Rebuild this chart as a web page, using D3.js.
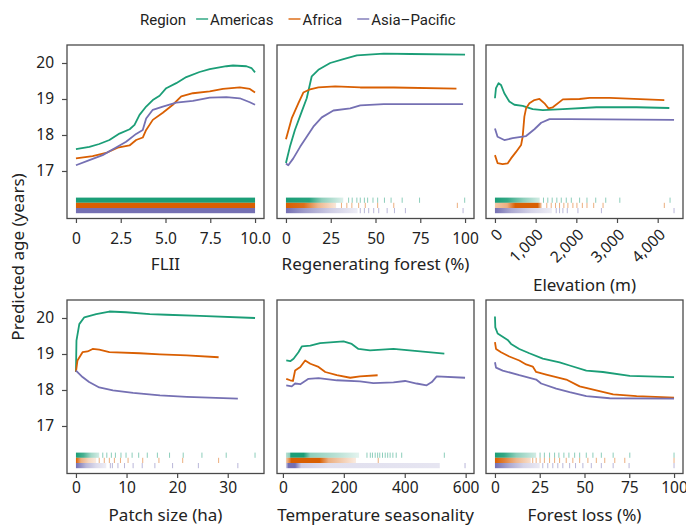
<!DOCTYPE html>
<html>
<head>
<meta charset="utf-8">
<script src="https://cdn.jsdelivr.net/npm/d3@7"></script>
<style>
  body { margin: 0; background: #fff; }
  text { font-family: 'Noto Sans', sans-serif; fill: #222; }
  .legend text { font-family: 'Roboto', sans-serif; }
</style>
</head>
<body>
<svg id="chart" width="686" height="526"></svg>
<script>
const regions = ['Americas', 'Africa', 'Asia\u2013Pacific'];
const regionColors = ['#1b9e77', '#d95f02', '#7570b3'];

const yTicks = [17, 18, 19, 20];
const yDomain = [15.68, 20.5];

// partial dependence curves, one array per region: Americas, Africa, Asia-Pacific
const fliiLines = [
  [[0, 17.61], [0.75, 17.67], [1.3, 17.75], [1.87, 17.86], [2.43, 18.04], [3.0, 18.16], [3.27, 18.28], [3.55, 18.56], [3.92, 18.79], [4.29, 18.97], [4.67, 19.09], [5.04, 19.3], [5.6, 19.44], [6.16, 19.61], [6.9, 19.75], [7.47, 19.83], [8.4, 19.91], [8.77, 19.93], [9.52, 19.91], [9.8, 19.86], [10, 19.74]],
  [[0, 17.35], [0.93, 17.41], [1.68, 17.5], [2.33, 17.65], [2.99, 17.71], [3.36, 17.86], [3.73, 17.93], [3.92, 18.14], [4.29, 18.42], [4.85, 18.62], [5.41, 18.84], [5.88, 19.07], [6.53, 19.16], [7.47, 19.21], [8.21, 19.28], [9.15, 19.32], [9.71, 19.28], [10, 19.18]],
  [[0, 17.16], [0.75, 17.3], [1.49, 17.44], [2.24, 17.65], [2.8, 17.81], [3.36, 18.03], [3.73, 18.14], [3.92, 18.46], [4.29, 18.7], [4.85, 18.79], [5.6, 18.9], [6.53, 18.95], [7.47, 19.04], [8.4, 19.05], [9.15, 19.02], [9.71, 18.91], [10, 18.84]]
];
const regenLines = [
  [[0, 17.22], [2.2, 17.67], [5.0, 18.14], [8.8, 18.65], [11.6, 19.02], [14.4, 19.63], [18.1, 19.81], [24.7, 20.0], [32.1, 20.11], [39.6, 20.21], [54.6, 20.26], [69.5, 20.25], [100, 20.23]],
  [[0, 17.88], [3.2, 18.46], [6.9, 18.88], [9.7, 19.18], [13.5, 19.27], [18.1, 19.32], [27.5, 19.35], [41.5, 19.32], [60.2, 19.32], [95.2, 19.29]],
  [[0, 17.21], [1.3, 17.16], [4.1, 17.35], [7.9, 17.67], [11.6, 17.95], [15.3, 18.23], [20, 18.49], [26.5, 18.68], [35.9, 18.74], [41.5, 18.82], [54.6, 18.86], [98.9, 18.86]]
];
const elevLines = [
  [[0, 19.02], [25, 19.3], [89, 19.44], [148, 19.39], [230, 19.16], [353, 18.93], [477, 18.84], [681, 18.81], [928, 18.72], [1175, 18.69], [1669, 18.72], [2493, 18.77], [3481, 18.77], [4286, 18.75]],
  [[0, 17.44], [64, 17.22], [188, 17.19], [311, 17.21], [395, 17.35], [519, 17.53], [642, 17.72], [681, 17.95], [723, 18.51], [765, 18.74], [847, 18.88], [970, 18.97], [1094, 19.0], [1217, 18.88], [1316, 18.74], [1422, 18.77], [1669, 18.99], [2081, 19.0], [2328, 19.03], [2822, 19.03], [4163, 18.97]],
  [[0, 18.18], [64, 17.95], [230, 17.86], [435, 17.91], [765, 17.97], [970, 18.16], [1136, 18.34], [1341, 18.44], [1835, 18.44], [4402, 18.42]]
];
const patchLines = [
  [[0, 18.5], [0.1, 19.37], [0.66, 19.83], [1.65, 20.02], [4, 20.11], [6.6, 20.18], [9.9, 20.16], [14.6, 20.11], [17.9, 20.09], [24.5, 20.06], [35.4, 20.0]],
  [[0, 18.5], [0.3, 18.82], [1.3, 19.05], [2.3, 19.07], [3.3, 19.14], [4.6, 19.12], [6.6, 19.05], [12.6, 19.02], [16.6, 18.99], [21.9, 18.96], [28.2, 18.91]],
  [[0, 18.54], [1.3, 18.36], [2.6, 18.22], [4.6, 18.07], [7.3, 17.99], [11.3, 17.92], [16.6, 17.85], [21.9, 17.81], [32, 17.76]]
];
const seasonLines = [
  [[11, 18.82], [24, 18.8], [35, 18.87], [51, 19.05], [62, 19.21], [90, 19.23], [122, 19.3], [166, 19.33], [199, 19.35], [226, 19.28], [248, 19.14], [286, 19.1], [325, 19.12], [363, 19.14], [530, 19.01]],
  [[11, 18.31], [24, 18.27], [33, 18.25], [40, 18.54], [57, 18.64], [73, 18.82], [90, 18.73], [117, 18.64], [139, 18.5], [177, 18.41], [221, 18.34], [253, 18.38], [311, 18.41]],
  [[11, 18.13], [29, 18.1], [40, 18.18], [57, 18.16], [84, 18.31], [117, 18.33], [177, 18.27], [253, 18.24], [297, 18.19], [363, 18.21], [401, 18.25], [439, 18.18], [472, 18.13], [489, 18.22], [505, 18.38], [598, 18.34]]
];
const lossLines = [
  [[0, 20.04], [0.2, 19.74], [1.5, 19.57], [4.3, 19.48], [7.1, 19.39], [9, 19.28], [13.6, 19.14], [19.2, 19.02], [26.7, 18.87], [36.1, 18.77], [41.7, 18.68], [51, 18.54], [60.3, 18.5], [75.3, 18.39], [100, 18.36]],
  [[0, 19.33], [0.6, 19.14], [3.4, 19.05], [8, 18.93], [13.6, 18.82], [17.4, 18.71], [21.1, 18.65], [23, 18.5], [28.6, 18.43], [39.8, 18.29], [47.3, 18.1], [56.6, 17.99], [66, 17.88], [79.1, 17.83], [100, 17.79]],
  [[0, 18.77], [0.6, 18.62], [4.3, 18.54], [13.6, 18.41], [23, 18.29], [25.8, 18.18], [34.2, 18.04], [41.7, 17.94], [51, 17.83], [64.1, 17.77], [100, 17.76]]
];

// rug density: [value, shading] stops for the dense part, then single observations
const fliiRugDense = [[[0, 1], [10, 1]], [[0, 1], [10, 1]], [[0, 1], [10, 1]]];
const fliiRugTicks = [[], [], []];
const regenRugDense = [
  [[0, 1], [13, 0.95], [20, 0.5], [32, 0.15]],
  [[0, 1], [10, 0.9], [18, 0.45], [28, 0.15]],
  [[0, 1], [10, 0.7], [25, 0.35], [40, 0.12]]
];
const regenRugTicks = [
  [35, 37, 39.6, 41.5, 43.8, 45.6, 48.6, 51.2, 55, 58.7, 64.9, 74.6, 99.8],
  [31, 34, 36.8, 40.6, 44.3, 51.2, 60.2, 95.7],
  [41.5, 43.8, 46.2, 49, 51.8, 56.5, 60.6, 66.7, 98.9]
];
const elevRugDense = [
  [[0, 1], [300, 0.9], [700, 0.5], [1100, 0.2]],
  [[0, 0.35], [300, 0.5], [500, 1], [1050, 1], [1150, 0.3]],
  [[0, 1], [400, 0.6], [900, 0.3], [1400, 0.12]]
];
const elevRugTicks = [
  [1193, 1299, 1407, 1521, 1630, 1753, 1877, 2081, 2262, 2477, 2723, 3069, 4304],
  [1274, 1383, 1489, 1588, 1694, 1793, 1916, 2015, 2148, 2262, 2427, 2657, 4163],
  [1506, 1588, 1670, 1778, 2040, 2617, 4402]
];
const patchRugDense = [
  [[0, 1], [1.5, 0.8], [3, 0.4], [4.6, 0.2]],
  [[0, 1], [1, 0.5], [2.5, 0.25], [4, 0.12]],
  [[0, 1], [2, 0.5], [4, 0.25], [6, 0.12]]
];
const patchRugTicks = [
  [5.3, 6.1, 7.0, 7.8, 8.9, 9.9, 11.1, 12.4, 14.1, 16.1, 18.5, 21.2, 24.9, 29.7, 35.4],
  [4.6, 5.6, 6.6, 7.6, 8.8, 10.3, 13.2, 16.4, 21.1, 28.2],
  [6.8, 7.2, 8.3, 9.6, 11.3, 13.1, 15.6, 19.1, 24.2, 32]
];
const seasonRugDense = [
  [[10, 0.3], [22, 0.5], [26, 1], [68, 1], [90, 0.5], [180, 0.3], [250, 0.12]],
  [[10, 0.3], [28, 1], [120, 1], [150, 0.5], [240, 0.12]],
  [[10, 0.3], [18, 1], [40, 1], [60, 0.35], [150, 0.22], [515, 0.18]]
];
const seasonRugTicks = [
  [276, 287, 294, 303, 311, 318, 327, 336, 344, 352, 361, 372, 390, 530],
  [313],
  [598]
];
const lossRugDense = [
  [[0, 1], [5, 0.9], [12, 0.5], [23, 0.2]],
  [[0, 1], [5, 0.8], [12, 0.45], [20, 0.2]],
  [[0, 1], [8, 0.6], [16, 0.3], [25, 0.15]]
];
const lossRugTicks = [
  [25.2, 27.6, 30.5, 33.3, 35.7, 38.5, 41.3, 44.5, 47.3, 51, 54.7, 59.4, 66, 75.3, 100],
  [21.1, 23, 25.2, 27.6, 30.5, 33.3, 36.1, 39.8, 43.5, 47.3, 51.9, 56.6, 61.3, 66.9, 72.5, 100],
  [26.7, 29.5, 32.3, 35.1, 37.9, 41.7, 45, 49.1, 53.8, 59.4, 66, 74.9, 100]
];

const fliiTicks = [0, 2.5, 5, 7.5, 10];
const fliiTickLabels = ['0', '2.5', '5.0', '7.5', '10.0'];
const regenTicks = [0, 25, 50, 75, 100];
const elevTicks = [0, 1000, 2000, 3000, 4000];
const elevTickLabels = ['0', '1,000', '2,000', '3,000', '4,000'];
const patchTicks = [0, 10, 20, 30];
const seasonTicks = [0, 200, 400, 600];
const lossTicks = [0, 25, 50, 75, 100];

const panels = [
  { title: 'FLII', lines: fliiLines, dense: fliiRugDense, rug: fliiRugTicks, ticks: fliiTicks, labels: fliiTickLabels },
  { title: 'Regenerating forest (%)', lines: regenLines, dense: regenRugDense, rug: regenRugTicks, ticks: regenTicks },
  { title: 'Elevation (m)', lines: elevLines, dense: elevRugDense, rug: elevRugTicks, ticks: elevTicks, labels: elevTickLabels, rotate: true },
  { title: 'Patch size (ha)', lines: patchLines, dense: patchRugDense, rug: patchRugTicks, ticks: patchTicks },
  { title: 'Temperature seasonality', lines: seasonLines, dense: seasonRugDense, rug: seasonRugTicks, ticks: seasonTicks },
  { title: 'Forest loss (%)', lines: lossLines, dense: lossRugDense, rug: lossRugTicks, ticks: lossTicks }
];

const svg = d3.select('#chart');
const defs = svg.append('defs');

const colX = [67, 277, 486];
const rowY = [45, 300];
const panelW = 197;
const panelH = 173.5;
const frameColor = '#4a4a4a';
// the two rows sit a little differently under the frame in the original
const rowLabelPad = [9.5, 4];
const rowTitleGap = [51.5, 47.5];

const bandH = 5.2;
const bandBottom = panelH - 5.3;

panels.forEach((p, i) => {
  const col = i % 3;
  const row = Math.floor(i / 3);
  const g = svg.append('g').attr('transform', `translate(${colX[col]},${rowY[row]})`);

  const allX = [];
  p.lines.forEach((l) => l.forEach((d) => allX.push(d[0])));
  p.dense.forEach((s) => s.forEach((d) => allX.push(d[0])));
  p.rug.forEach((r) => r.forEach((v) => allX.push(v)));
  const [lo, hi] = d3.extent(allX);
  const pad = (hi - lo) * 0.05;

  const x = d3.scaleLinear().domain([lo - pad, hi + pad]).range([0, panelW]);
  const y = d3.scaleLinear().domain(yDomain).range([panelH, 0]);

  // rugs: green on top, then orange, purple at the bottom
  regions.forEach((r, k) => {
    const top = bandBottom - (3 - k) * bandH;
    const stops = p.dense[k];
    const x0 = x(stops[0][0]);
    const x1 = x(stops[stops.length - 1][0]);
    const id = `rug-${i}-${k}`;
    defs
      .append('linearGradient')
      .attr('id', id)
      .attr('gradientUnits', 'userSpaceOnUse')
      .attr('x1', x0)
      .attr('x2', x1)
      .attr('y1', 0)
      .attr('y2', 0)
      .selectAll('stop')
      .data(stops)
      .enter()
      .append('stop')
      .attr('offset', (d) => (x(d[0]) - x0) / (x1 - x0))
      .attr('stop-color', regionColors[k])
      .attr('stop-opacity', (d) => d[1]);

    g.append('rect')
      .attr('x', x0)
      .attr('y', top)
      .attr('width', x1 - x0)
      .attr('height', bandH)
      .attr('fill', `url(#${id})`);

    g.selectAll(`line.rug-${k}`)
      .data(p.rug[k])
      .enter()
      .append('line')
      .attr('class', `rug-${k}`)
      .attr('x1', (d) => x(d))
      .attr('x2', (d) => x(d))
      .attr('y1', top)
      .attr('y2', top + bandH)
      .attr('stroke', regionColors[k])
      .attr('stroke-opacity', 0.5)
      .attr('stroke-width', 1);
  });

  const line = d3
    .line()
    .x((d) => x(d[0]))
    .y((d) => y(d[1]));

  g.selectAll('path.curve')
    .data(p.lines)
    .enter()
    .append('path')
    .attr('class', 'curve')
    .attr('d', line)
    .attr('fill', 'none')
    .attr('stroke', (d, k) => regionColors[k])
    .attr('stroke-width', 1.8)
    .attr('stroke-linejoin', 'round');

  g.append('rect')
    .attr('width', panelW)
    .attr('height', panelH)
    .attr('fill', 'none')
    .attr('stroke', frameColor)
    .attr('stroke-width', 1.3);

  const xAxis = g
    .append('g')
    .attr('transform', `translate(0,${panelH})`)
    .call(
      d3
        .axisBottom(x)
        .tickValues(p.ticks)
        .tickFormat((d, j) => (p.labels ? p.labels[j] : String(d)))
        .tickSize(4.5)
        .tickPadding(rowLabelPad[row]),
    );
  xAxis.select('.domain').remove();
  xAxis.selectAll('line').attr('stroke', frameColor).attr('stroke-width', 1.2);
  xAxis.selectAll('text').attr('font-size', 15.5).attr('fill', '#222').attr('font-family', null);

  if (p.rotate) {
    xAxis
      .selectAll('text')
      .attr('y', 0)
      .attr('dy', null)
      .attr('text-anchor', 'end')
      .attr('transform', 'translate(8,17) rotate(-45)');
  }

  g.append('text')
    .attr('x', panelW / 2)
    .attr('y', panelH + rowTitleGap[row] + (p.rotate ? 20.5 : 0))
    .attr('text-anchor', 'middle')
    .attr('font-size', 17)
    .text(p.title);

  if (col === 0) {
    const yAxis = g.append('g').call(
      d3
        .axisLeft(y)
        .tickValues(yTicks)
        .tickFormat((d) => String(d))
        .tickSize(5)
        .tickPadding(8),
    );
    yAxis.select('.domain').remove();
    yAxis.selectAll('line').attr('stroke', frameColor).attr('stroke-width', 1.2);
    yAxis.selectAll('text').attr('font-size', 15.5).attr('fill', '#222').attr('font-family', null);
  }
});

svg
  .append('text')
  .attr('transform', 'translate(24,257) rotate(-90)')
  .attr('text-anchor', 'middle')
  .attr('font-size', 17)
  .text('Predicted age (years)');

// legend
const legend = svg.append('g').attr('class', 'legend').attr('transform', 'translate(140,25)');
const legendTitle = legend.append('text').attr('font-size', 15).text('Region');
let lx = legendTitle.node().getComputedTextLength() + 10;
regions.forEach((r, k) => {
  legend
    .append('line')
    .attr('x1', lx)
    .attr('x2', lx + 12)
    .attr('y1', -6)
    .attr('y2', -6)
    .attr('stroke', regionColors[k])
    .attr('stroke-opacity', 0.75)
    .attr('stroke-width', 1.8);
  const t = legend
    .append('text')
    .attr('x', lx + 14)
    .attr('font-size', 15)
    .text(r);
  lx += 14 + t.node().getComputedTextLength() + 15;
});
</script>
</body>
</html>
